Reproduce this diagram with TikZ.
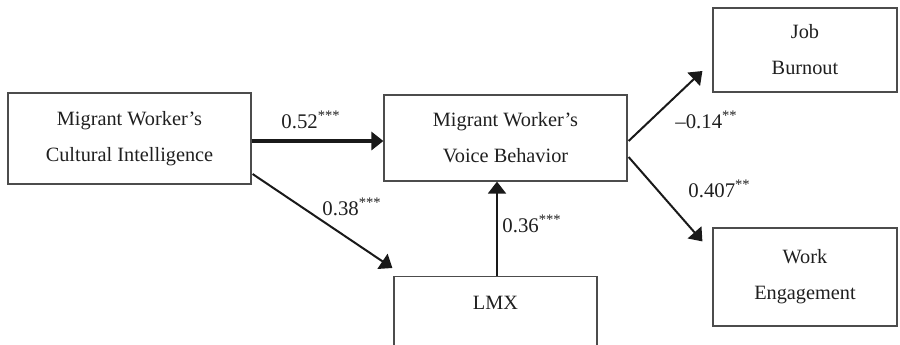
\documentclass[tikz,border=0pt]{standalone}
\usepackage{fontspec}
\setmainfont{Liberation Serif}
\usetikzlibrary{arrows.meta,calc}
\begin{document}
\begin{tikzpicture}[x=0.5pt,y=-0.5pt,
  box/.style={draw=black!70, line width=0.6pt, align=center, inner sep=0pt,
    font=\fontsize{10.15}{18}\selectfont, text=black!88},
  boxtext/.style={inner sep=0pt, font=\fontsize{10.15}{18}\selectfont, text=black!88},
  arr/.style={line width=1pt, draw=black!90, -{Triangle[length=6pt,width=9pt]}},
  thickarr/.style={arr, line width=1.6pt},
  lbl/.style={font=\fontsize{10.4}{12}\selectfont, inner sep=0pt, anchor=base west, text=black!88}]
\useasboundingbox (0,0) rectangle (900,344);
% boxes
\node[box, minimum width=121.5pt, minimum height=45.5pt] (b1) at (129.5,138.5) {Migrant Worker’s\\Cultural Intelligence};
\node[box, minimum width=121.5pt, minimum height=43pt] (b2) at (505.5,138) {Migrant Worker’s\\Voice Behavior};
\node[box, minimum width=92pt, minimum height=42pt] (b3) at (805,50) {Job\\Burnout};
\node[box, minimum width=92pt, minimum height=49pt] (b4) at (805,277) {Work\\Engagement};
\node[box, minimum width=101.5pt, minimum height=42pt, anchor=north] (lmx) at (495.5,276) {};
\node[boxtext] (lmxt) at (495.5,303) {LMX};
% connectors
\draw[thickarr] (b1.east |- 0,141) -- (b2.west |- 0,141);
\draw[arr] ($(b1.east)+(1,35.5)$) -- ($(lmx.north west)+(-1,-8)$);
\draw[arr] ($(lmx.north)+(1.5,0)$) -- ($(lmx.north |- b2.south)+(1.5,0)$);
\draw[arr] ($(b2.east)+(1,3)$) -- ($(b3.west)+(-10,21)$);
\draw[arr] ($(b2.east)+(1,19)$) -- ($(b4.north west)+(-10,14)$);
% labels
\node[lbl] (l1) at (281,128) {0.52\textsuperscript{***}};
\node[lbl] (l2) at (322,215) {0.38\textsuperscript{***}};
\node[lbl] (l3) at (502,232) {0.36\textsuperscript{***}};
\node[lbl] (l4) at (675,128) {–0.14\textsuperscript{**}};
\node[lbl] (l5) at (688,197) {0.407\textsuperscript{**}};
\end{tikzpicture}
\end{document}
